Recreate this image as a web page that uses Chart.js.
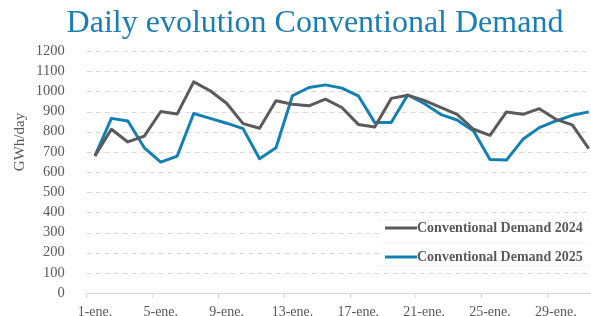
<!DOCTYPE html>
<html>
<head>
<meta charset="utf-8">
<script src="https://cdn.jsdelivr.net/npm/chart.js@4/dist/chart.umd.min.js"></script>
<style>
  html, body { margin:0; padding:0; background:#fff; overflow:hidden; }
  #wrap { position:relative; width:630px; height:316px; }
</style>
</head>
<body>
<div id="wrap"><canvas id="chart" width="630" height="316"></canvas></div>
<script>
// ---------------------------
// DATA
// ---------------------------
const DAYS = Array.from({length:31}, (_, i) => `${i+1}-ene.`);
const DEMAND_2024 = [680, 812, 749, 778, 900, 888, 1047, 1003, 941, 840, 817, 953, 936, 928, 961, 920,
                     836, 823, 965, 981, 955, 920, 886, 812, 782, 898, 886, 914, 861, 834, 716];
const DEMAND_2025 = [680, 866, 853, 720, 649, 679, 890, 866, 842, 815, 666, 720, 978, 1019, 1032, 1016,
                     978, 845, 845, 982, 940, 886, 858, 803, 662, 659, 762, 820, 853, 881, 898];
const SERIES_NAMES = ["Conventional Demand 2024", "Conventional Demand 2025"];
const SERIES_COLORS = ["#5a5a5a", "#1380b4"];

const SERIF = "'Liberation Serif', 'DejaVu Serif', serif";
const TXT = "#595959";
const GRID = "#d9d9d9";
const PAD = 33; // side padding so the title centres where the original does

// ---------------------------
// PLUGINS
// ---------------------------
// dashed horizontal gridlines, taken from the y scale ticks
const dashedGrid = {
  id: "dashedGrid",
  beforeDatasetsDraw(chart){
    const {ctx, chartArea, scales:{y}} = chart;
    ctx.save();
    ctx.strokeStyle = GRID;
    ctx.lineWidth = 1;
    ctx.setLineDash([5, 4]);
    y.ticks.forEach(t=>{
      if(t.value === 0) return;
      const py = Math.round(y.getPixelForValue(t.value)) + 0.5;
      ctx.beginPath(); ctx.moveTo(chartArea.left, py); ctx.lineTo(chartArea.right, py); ctx.stroke();
    });
    ctx.restore();
  }
};

const extras = {
  id: "extras",
  afterDraw(chart){
    const ctx = chart.ctx;
    // y axis title
    ctx.save();
    ctx.translate(20, 142);
    ctx.rotate(-Math.PI/2);
    ctx.fillStyle = TXT;
    ctx.font = `15px ${SERIF}`;
    ctx.textAlign = "center";
    ctx.textBaseline = "middle";
    ctx.fillText("GWh/day", 0, 0);
    ctx.restore();

    // legend box
    const x0 = 379, y0 = 220, y1 = 265;
    ctx.save();
    ctx.fillStyle = "#fff";
    ctx.fillRect(x0, y0, chart.width - x0, y1 - y0);
    ctx.strokeStyle = "#ececec";
    ctx.setLineDash([2, 2]);
    ctx.lineWidth = 1;
    [y0, (y0+y1)/2, y1].forEach(y=>{
      ctx.beginPath(); ctx.moveTo(x0, y+0.5); ctx.lineTo(chart.width, y+0.5); ctx.stroke();
    });
    ctx.setLineDash([]);
    const rows = [228, 257];
    chart.data.datasets.forEach((ds, i)=>{
      const y = rows[i];
      ctx.strokeStyle = ds.borderColor;
      ctx.lineWidth = 3;
      ctx.beginPath(); ctx.moveTo(385, y); ctx.lineTo(417, y); ctx.stroke();
      ctx.fillStyle = TXT;
      ctx.font = `bold 14px ${SERIF}`;
      ctx.textAlign = "left";
      ctx.textBaseline = "middle";
      ctx.fillText(ds.label, 417, y);
    });
    ctx.restore();
  }
};

// ---------------------------
// CHART
// ---------------------------
new Chart(document.getElementById("chart"), {
  type: "line",
  data: {
    labels: DAYS,
    datasets: [DEMAND_2024, DEMAND_2025].map((d, i)=>({
      label: SERIES_NAMES[i],
      data: d,
      borderColor: SERIES_COLORS[i],
      backgroundColor: SERIES_COLORS[i],
      borderWidth: 3,
      pointRadius: 0,
      tension: 0,
      borderJoinStyle: "round",
      fill: false
    }))
  },
  options: {
    responsive: false,
    animation: false,
    layout: { padding: { left:PAD, right:PAD, top:0, bottom:0 } },
    plugins: {
      legend: { display:false },
      tooltip: { enabled:false },
      title: {
        display: true,
        text: "Daily evolution Conventional Demand",
        color: "#1b7db3",
        font: { family: SERIF, size: 32, weight: "normal", lineHeight: 1.2 },
        padding: { top: 4, bottom: 8.6 }
      }
    },
    scales: {
      x: {
        offset: true,
        afterFit(s){ s.height = 23; },
        grid: {
          offset: true,
          drawOnChartArea: false,
          drawTicks: true,
          tickLength: 5,
          color: (c)=> c.index % 4 === 0 ? GRID : "rgba(0,0,0,0)"
        },
        border: { display:true, color: GRID, width: 1 },
        ticks: {
          autoSkip: false,
          maxRotation: 0,
          padding: 6,
          color: TXT,
          font: { family: SERIF, size: 14 },
          callback: (v, i)=> i % 4 === 0 ? DAYS[i] : ""
        }
      },
      y: {
        min: 0, max: 1200,
        afterFit(s){ s.width = 86.7 - PAD; },
        grid: { display:false },
        border: { display:false },
        ticks: {
          stepSize: 100,
          autoSkip: false,
          padding: 14,
          color: TXT,
          font: { family: SERIF, size: 14.5 },
          callback: (v)=> String(v)
        }
      }
    }
  },
  plugins: [dashedGrid, extras]
});
</script>
</body>
</html>
